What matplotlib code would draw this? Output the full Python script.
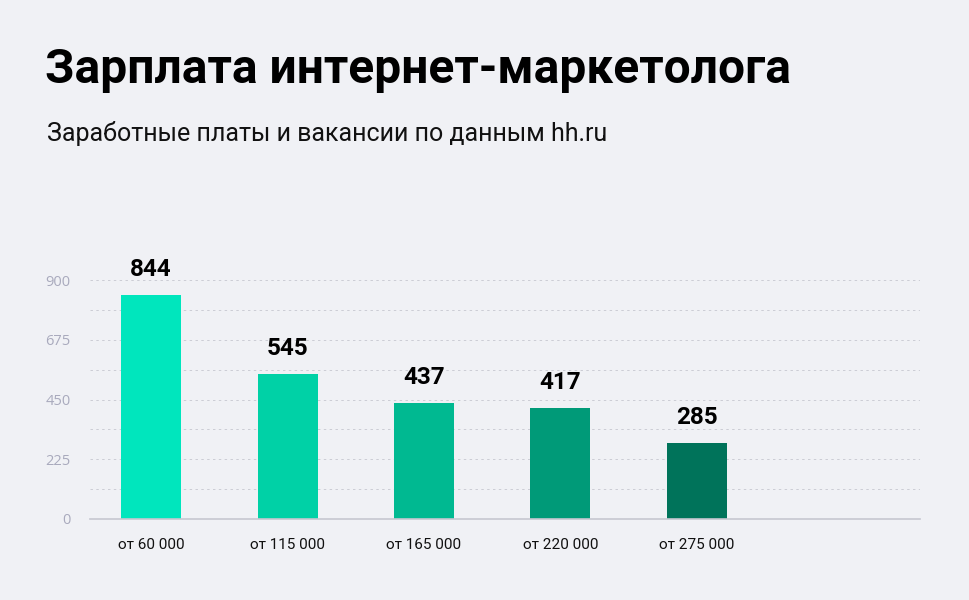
import matplotlib.pyplot as plt
import numpy as np

plt.rcParams['font.family'] = ['Roboto', 'DejaVu Sans']

categories = ['от 60 000', 'от 115 000', 'от 165 000', 'от 220 000', 'от 275 000']
vacancies = [844, 545, 437, 417, 285]
bar_colors = ['#00E6BD', '#00D1A6', '#00B991', '#009A78', '#00735A']
y_ticks = [0, 225, 450, 675, 900]

bg = '#F0F1F5'
fig = plt.figure(figsize=(9.7, 6), dpi=100, facecolor=bg)
ax = fig.add_axes([90 / 970, 1 - 519 / 600, 830 / 970, 239 / 600])
ax.set_facecolor(bg)

x = np.arange(len(categories))
step = 136.5
ax.set_xlim(-61 / step, 769 / step)
ax.set_ylim(0, 900)

# grid every 112.5, labels every 225
for g in np.arange(112.5, 901, 112.5):
    ax.axhline(g, color='#CBCCD4', lw=0.7, ls=(0, (2.5, 3.5)), zorder=0)

ax.bar(x, vacancies, width=60 / step, color=bar_colors, zorder=2)

for xi, v in zip(x, vacancies):
    ax.annotate(str(v), xy=(xi, v), xytext=(0, 10), textcoords='offset points',
                ha='center', va='bottom', fontsize=17.5, fontweight='bold', color='#000000')

ax.set_yticks(y_ticks)
ax.set_yticklabels([str(t) for t in y_ticks], fontsize=10.5, color='#A9AABD', family=['Open Sans', 'DejaVu Sans'])
ax.set_xticks(x)
ax.set_xticklabels(categories, fontsize=11, color='#111111')
ax.tick_params(axis='both', length=0)
ax.tick_params(axis='y', pad=14)
ax.tick_params(axis='x', pad=14)

for s in ['top', 'right', 'left']:
    ax.spines[s].set_visible(False)
ax.spines['bottom'].set_color('#C6C7D0')
ax.spines['bottom'].set_linewidth(1.2)

fig.text(45 / 970, 1 - 70 / 600, 'Зарплата интернет-маркетолога', fontsize=34.5,
         fontweight='bold', color='#000000', va='center', ha='left')
fig.text(47 / 970, 1 - 133 / 600, 'Заработные платы и вакансии по данным hh.ru', fontsize=18,
         color='#111111', va='center', ha='left')

fig.savefig('out.png', dpi=100, facecolor=bg)
